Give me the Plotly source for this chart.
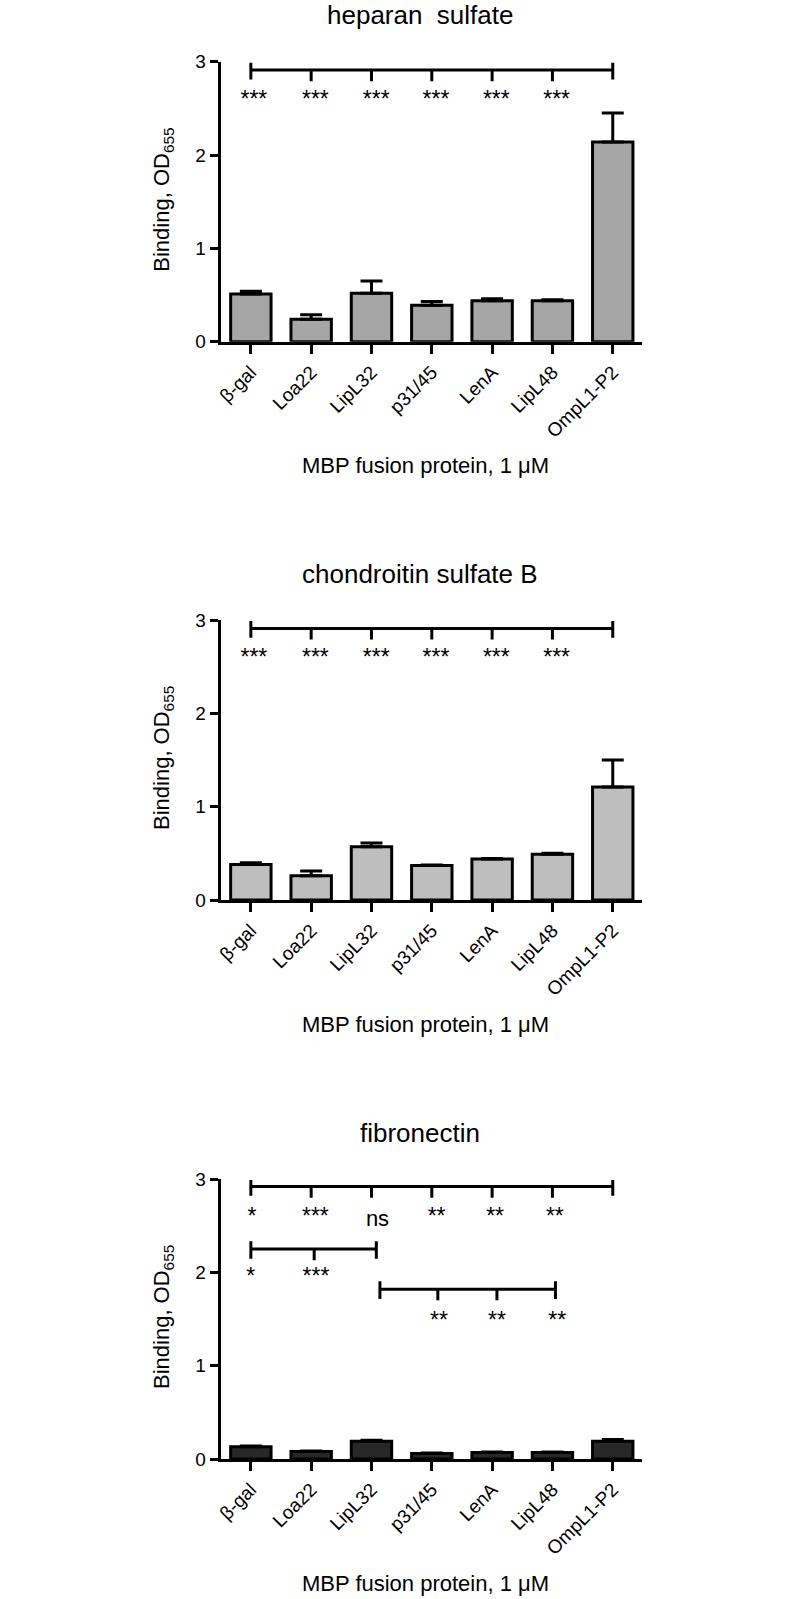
import plotly.graph_objects as go

# ---------------- data ----------------
categories = ["β-gal", "Loa22", "LipL32", "p31/45", "LenA", "LipL48", "OmpL1-P2"]

panel_titles = ["heparan  sulfate", "chondroitin sulfate B", "fibronectin"]

heparan_values = [0.51, 0.24, 0.52, 0.39, 0.44, 0.44, 2.14]
heparan_errors = [0.03, 0.05, 0.13, 0.04, 0.02, 0.01, 0.31]

chondroitin_values = [0.38, 0.26, 0.57, 0.37, 0.44, 0.49, 1.21]
chondroitin_errors = [0.02, 0.05, 0.04, 0.005, 0.005, 0.01, 0.29]

fibronectin_values = [0.13, 0.08, 0.19, 0.06, 0.07, 0.07, 0.19]
fibronectin_errors = [0.01, 0.005, 0.01, 0.005, 0.005, 0.005, 0.02]

y_ticks = [0, 1, 2, 3]

# significance brackets: (left, right, height, inner tick positions)
heparan_brackets = [(0, 6, 2.91, [1, 2, 3, 4, 5])]
chondroitin_brackets = [(0, 6, 2.91, [1, 2, 3, 4, 5])]
fibronectin_brackets = [
    (0, 6, 2.92, [1, 2, 3, 4, 5]),
    (0, 2.08, 2.25, [1.05]),
    (2.14, 5.05, 1.82, [3.1, 4.08]),
]

# significance labels: (x, y, text)
heparan_labels = [(0.05, 2.58, "***"), (1.07, 2.58, "***"), (2.08, 2.58, "***"),
                  (3.07, 2.58, "***"), (4.07, 2.58, "***"), (5.07, 2.58, "***")]
chondroitin_labels = [(0.05, 2.58, "***"), (1.07, 2.58, "***"), (2.08, 2.58, "***"),
                      (3.07, 2.58, "***"), (4.07, 2.58, "***"), (5.07, 2.58, "***")]
fibronectin_labels = [(0.02, 2.58, "*"), (1.07, 2.58, "***"), (3.08, 2.58, "**"),
                      (4.05, 2.58, "**"), (5.04, 2.58, "**"),
                      (0.0, 1.94, "*"), (1.08, 1.94, "***"),
                      (3.12, 1.47, "**"), (4.08, 1.47, "**"), (5.08, 1.47, "**")]
fibronectin_ns = [(2.1, 2.56, "ns")]

bar_colors = ["#a6a6a6", "#bebebe", "#282828"]

# ---------------- layout geometry (pixels) ----------------
W, H = 794, 1599
FONT = "Liberation Sans, Arial, Helvetica, sans-serif"
plot_left, plot_right = 220.7, 641.7
plot_tops = [61.7, 620.0, 1179.0]
plot_h = 280.0


def px_x(p):
    return p / W


def px_y(p):
    return 1 - p / H


panels = [
    (heparan_values, heparan_errors, heparan_brackets, heparan_labels, []),
    (chondroitin_values, chondroitin_errors, chondroitin_brackets, chondroitin_labels, []),
    (fibronectin_values, fibronectin_errors, fibronectin_brackets, fibronectin_labels, fibronectin_ns),
]

fig = go.Figure()
annotations = []
layout_axes = {}

for i, (vals, errs, brackets, labels, extra) in enumerate(panels):
    n = "" if i == 0 else str(i + 1)
    xa, ya = "x" + n, "y" + n
    xpos = list(range(len(categories)))

    fig.add_trace(go.Bar(
        x=xpos, y=vals, xaxis=xa, yaxis=ya, width=0.67,
        marker=dict(color=bar_colors[i], line=dict(color="black", width=3)),
        error_y=dict(type="data", symmetric=False, array=errs,
                     arrayminus=[0] * len(errs), color="black",
                     thickness=3, width=11),
        showlegend=False, hoverinfo="skip",
    ))

    # brackets
    bx, by = [], []
    for (l, r, h, ticks) in brackets:
        cap = 0.10 if h > 2.5 else 0.105
        bx += [l, r, None, l, l, None, r, r, None]
        by += [h, h, None, h - cap, min(h + cap * 0.8, 2.99), None, h - cap, min(h + cap * 0.8, 2.99), None]
        for t in ticks:
            bx += [t, t, None]
            by += [h, h - 0.12, None]
    fig.add_trace(go.Scatter(
        x=bx, y=by, xaxis=xa, yaxis=ya, mode="lines",
        line=dict(color="black", width=3), showlegend=False, hoverinfo="skip",
    ))

    fig.add_trace(go.Scatter(
        x=[l[0] for l in labels], y=[l[1] for l in labels],
        text=[l[2] for l in labels], mode="text", xaxis=xa, yaxis=ya,
        textfont=dict(family=FONT, size=23, color="black"),
        showlegend=False, hoverinfo="skip", cliponaxis=False,
    ))
    if extra:
        fig.add_trace(go.Scatter(
            x=[e[0] for e in extra], y=[e[1] for e in extra],
            text=[e[2] for e in extra], mode="text", xaxis=xa, yaxis=ya,
            textfont=dict(family=FONT, size=22, color="black"),
            showlegend=False, hoverinfo="skip", cliponaxis=False,
        ))

    top = plot_tops[i]
    bottom = top + plot_h
    layout_axes["xaxis" + n] = dict(
        domain=[px_x(plot_left), px_x(plot_right)], anchor=ya,
        range=[-0.5, 6.48], tickmode="array", tickvals=xpos, ticktext=categories,
        tickangle=-45, ticks="outside", ticklen=9, tickwidth=3, tickcolor="black",
        showline=True, linewidth=3, linecolor="black", showgrid=False, zeroline=False,
        tickfont=dict(family=FONT, size=19, color="black"), fixedrange=True,
        automargin=False,
    )
    layout_axes["yaxis" + n] = dict(
        domain=[px_y(bottom), px_y(top)], anchor=xa,
        range=[0, 3], tickmode="array", tickvals=y_ticks,
        ticks="outside", ticklen=8, tickwidth=3, tickcolor="black",
        showline=True, linewidth=3, linecolor="black", showgrid=False, zeroline=False,
        tickfont=dict(family=FONT, size=19, color="black"), fixedrange=True,
        automargin=False,
    )

    annotations.append(dict(
        text=panel_titles[i], x=px_x(420), y=px_y(top - 46.5), xref="paper", yref="paper",
        xanchor="center", yanchor="middle", showarrow=False,
        font=dict(family=FONT, size=26, color="black"),
    ))
    annotations.append(dict(
        text="Binding, OD<sub>655</sub>", x=px_x(163), y=px_y(top + 138), xref="paper", yref="paper",
        xanchor="center", yanchor="middle", showarrow=False, textangle=-90,
        font=dict(family=FONT, size=22, color="black"),
    ))
    annotations.append(dict(
        text="MBP fusion protein, 1 μM", x=px_x(425), y=px_y(bottom + 124), xref="paper", yref="paper",
        xanchor="center", yanchor="middle", showarrow=False,
        font=dict(family=FONT, size=22, color="black"),
    ))

fig.update_layout(
    template="none",
    width=W, height=H, margin=dict(l=0, r=0, t=0, b=0, pad=0), autosize=False,
    paper_bgcolor="white", plot_bgcolor="white",
    font=dict(family=FONT, color="black"),
    annotations=annotations, showlegend=False, bargap=0,
    **layout_axes,
)

# remove the default 8px page margin so the figure fills the window exactly
fig.write_html(
    "out.html",
    config={"displayModeBar": False, "staticPlot": True},
    post_script="document.body.style.margin='0';document.body.style.overflow='hidden';",
)
